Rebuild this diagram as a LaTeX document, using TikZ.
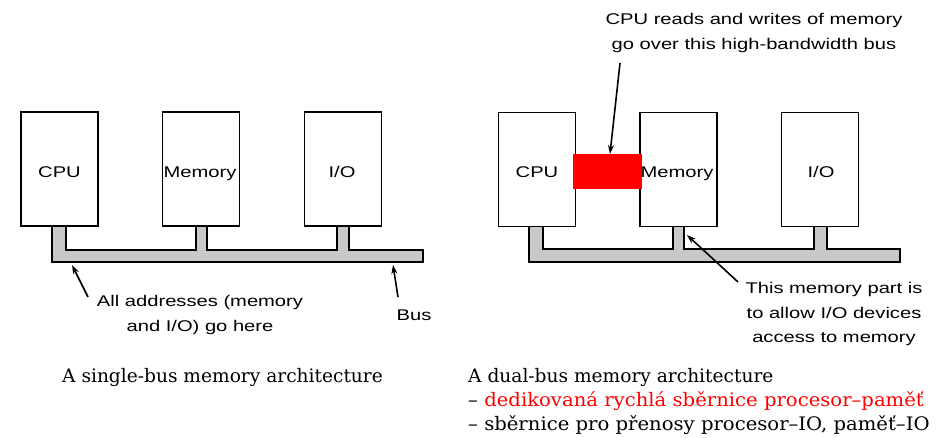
\documentclass[tikz,border=0pt]{standalone}
\usepackage{fontspec}
\setmainfont{DejaVu Serif}
\newfontfamily\diagfont{Liberation Sans}
\usetikzlibrary{arrows.meta}
\definecolor{busgray}{RGB}{200,200,200}
\definecolor{hotred}{RGB}{255,0,0}
\tikzset{
  unitbox/.style={draw=black, line width=1.8pt, fill=white, minimum width=77pt, minimum height=114pt, inner sep=0pt},
  boxlabel/.style={font=\diagfont\fontsize{15.5}{18}\selectfont, xscale=1.3, inner sep=0pt},
  note/.style={font=\diagfont\fontsize{15.5}{24.5}\selectfont, xscale=1.3, align=center, inner sep=0pt},
  busline/.style={draw=black, line width=1.8pt, fill=busgray, line join=miter},
  pointer/.style={line width=1.6pt, -{Stealth[length=9pt,width=6pt]}},
  caption/.style={font=\fontsize{18.6}{24}\selectfont, inner sep=0pt, anchor=base west, align=left},
  widecaption/.style={caption, xscale=1.055}
}
\begin{document}
\begin{tikzpicture}[x=1pt, y=-1pt]
\useasboundingbox (0,0) rectangle (944,437);

% ---- single-bus architecture ----
\path[busline] (52,226) -- (52,262) -- (423,262) -- (423,250) -- (349,250) -- (349,226)
  -- (337,226) -- (337,250) -- (207,250) -- (207,226) -- (196,226) -- (196,250)
  -- (66,250) -- (66,226) -- cycle;
\node[unitbox] (cpuA) at (59.5,169) {};
\node[unitbox] (memA) at (201,169) {};
\node[unitbox] (ioA)  at (343,169) {};
\node[boxlabel, anchor=base] (cpuAl) at (59.5,177) {CPU};
\node[boxlabel, anchor=base] (memAl) at (200,177) {Memory};
\node[boxlabel, anchor=base] (ioAl)  at (342,177) {I/O};

\node[note] (addrnote) at (200,315) {All addresses (memory\\and I/O) go here};
\node[note, anchor=base] (busnote) at (414,320) {Bus};
\coordinate (addrtail) at (88,297);
\coordinate (addrhead) at (72,265);
\coordinate (bustail) at (398,297);
\coordinate (bushead) at (393,265);
\draw[pointer] (addrtail) -- (addrhead);
\draw[pointer] (bustail) -- (bushead);

% ---- dual-bus architecture ----
\path[busline] (529,226) -- (529,262) -- (900,262) -- (900,249) -- (827,249) -- (827,226)
  -- (814,226) -- (814,249) -- (684,249) -- (684,226) -- (673,226) -- (673,249)
  -- (543,249) -- (543,226) -- cycle;
\node[unitbox] (cpuB) at (537,169.5) {};
\node[unitbox] (memB) at (678.5,169.5) {};
\node[unitbox] (ioB)  at (820,169.5) {};
\fill[hotred] (573,154) rectangle (642,189);
\node[boxlabel, anchor=base] (cpuBl) at (537,177) {CPU};
\node[boxlabel, anchor=base] (memBl) at (677,177) {Memory};
\node[boxlabel, anchor=base] (ioBl)  at (821,177) {I/O};

\node[note] (fastnote) at (754,33) {CPU reads and writes of memory\\go over this high-bandwidth bus};
\coordinate (fasttail) at (620,63);
\coordinate (fasthead) at (610,154);
\draw[pointer] (fasttail) -- (fasthead);

\node[note] (ionote) at (834,314) {This memory part is\\to allow I/O devices\\access to memory};
\coordinate (iotail) at (738,282);
\coordinate (iohead) at (687,235);
\draw[pointer] (iotail) -- (iohead);

% ---- captions ----
\node[caption] (capA) at (62,382) {A single-bus memory architecture};
\node[caption] (capB1) at (468,382) {A dual-bus memory architecture};
\node[widecaption] (capB2) at (468,406) {– \textcolor{hotred}{dedikovaná rychlá sběrnice procesor–paměť}};
\node[widecaption] (capB3) at (468,430) {– sběrnice pro přenosy procesor–IO, paměť–IO};
\end{tikzpicture}
\end{document}
